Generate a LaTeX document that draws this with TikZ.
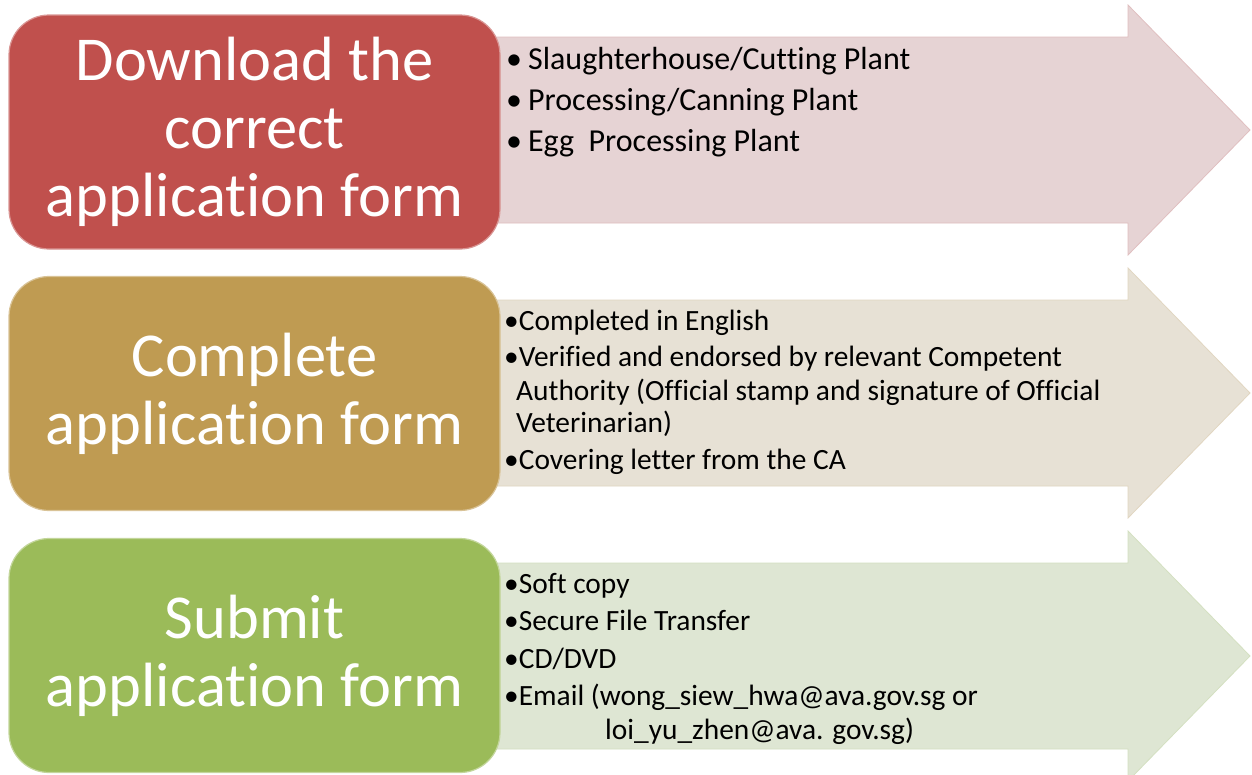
\documentclass[tikz,border=0pt]{standalone}
\usepackage{fontspec}
\setmainfont{Carlito}[RawFeature={-liga;-clig;-calt;-dlig}]
\definecolor{redbox}{HTML}{C0504D}
\definecolor{tanbox}{HTML}{BF9B52}
\definecolor{greenbox}{HTML}{9BBB59}
\definecolor{redarrow}{HTML}{E6D3D4}
\definecolor{tanarrow}{HTML}{E7E1D5}
\definecolor{greenarrow}{HTML}{DEE6D3}
\begin{document}
\begin{tikzpicture}[x=1pt,y=-1pt,
  stepbox/.style={rectangle, rounded corners=40pt, line width=1.2pt,
    minimum width=491pt, minimum height=234pt, inner sep=0pt,
    align=center, text=white, font=\fontsize{62.5}{68}\selectfont},
  arrowbody/.style={line width=0.8pt},
  itemA/.style={anchor=base west, inner sep=0pt, text=black, font=\fontsize{32}{41}\selectfont},
  itemB/.style={anchor=base west, inner sep=0pt, text=black, font=\fontsize{29.4}{35}\selectfont}
]
\useasboundingbox (0,0) rectangle (1252,774);
\fill[white] (0,0) rectangle (1252,774);
% arrows
\draw[arrowbody, fill=redarrow, draw=redarrow!85!redbox]
  (495,37) -- (1128,37) -- (1128,5) -- (1250,130) -- (1128,255) -- (1128,223) -- (495,223) -- cycle;
\draw[arrowbody, fill=tanarrow, draw=tanarrow!85!tanbox]
  (495,300) -- (1128,300) -- (1128,268) -- (1250,393) -- (1128,518) -- (1128,486) -- (495,486) -- cycle;
\draw[arrowbody, fill=greenarrow, draw=greenarrow!85!greenbox]
  (495,563) -- (1128,563) -- (1128,531) -- (1250,656) -- (1128,781) -- (1128,749) -- (495,749) -- cycle;
% boxes
\node[stepbox, fill=redbox, draw=redbox!60!white] (b1) at (254.5,132) {Download the\\correct\\application form};
\node[stepbox, fill=tanbox, draw=tanbox!60!white] (b2) at (254.5,393.5) {Complete\\application form};
\node[stepbox, fill=greenbox, draw=greenbox!60!white] (b3) at (254.5,655.5) {Submit\\application form};
% items arrow 1
\node[itemA] (a1) at (506,69) {\textbullet\hspace{6pt}Slaughterhouse/Cutting Plant};
\node[itemA] (a2) at (506,110) {\textbullet\hspace{6pt}Processing/Canning Plant};
\node[itemA] (a3) at (506,151) {\textbullet\hspace{6pt}Egg\ \ Processing Plant};
% items arrow 2
\node[itemB] (c1) at (504,330) {\textbullet Completed in English};
\node[itemB] (c2) at (504,366) {\textbullet Verified and endorsed by relevant Competent};
\node[itemB] (c3) at (516,400) {Authority (Official stamp and signature of Official};
\node[itemB] (c4) at (516,432) {Veterinarian)};
\node[itemB] (c5) at (504,469) {\textbullet Covering letter from the CA};
% items arrow 3
\node[itemB] (d1) at (504,593) {\textbullet Soft copy};
\node[itemB] (d2) at (504,630) {\textbullet Secure File Transfer};
\node[itemB] (d3) at (504,668) {\textbullet CD/DVD};
\node[itemB] (d4) at (504,705) {\textbullet Email (wong\_siew\_hwa@ava.gov.sg or};
\node[itemB] (d5) at (605,739) {loi\_yu\_zhen@ava. gov.sg)};
\end{tikzpicture}
\end{document}
